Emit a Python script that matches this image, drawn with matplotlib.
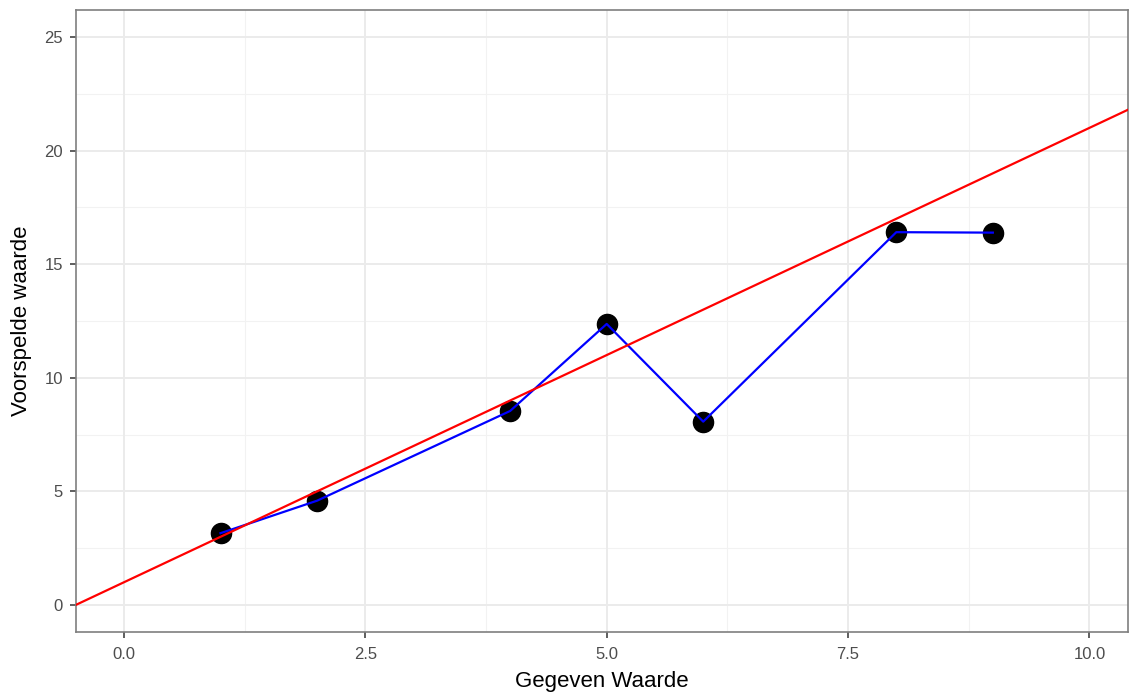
import matplotlib
matplotlib.use("Agg")
import matplotlib.pyplot as plt
import numpy as np

x_vals = [1, 2, 4, 5, 6, 8, 9]
y_vals = [3.16, 4.59, 8.54, 12.37, 8.07, 16.41, 16.39]
intercept = 1.0
slope = 2.0
x_ticks = [0.0, 2.5, 5.0, 7.5, 10.0]
x_ticklabels = ["0.0", "2.5", "5.0", "7.5", "10.0"]
y_ticks = [0, 5, 10, 15, 20, 25]
y_ticklabels = ["0", "5", "10", "15", "20", "25"]
xlabel = "Gegeven Waarde"
ylabel = "Voorspelde waarde"

plt.rcParams['font.family'] = ['Liberation Sans', 'DejaVu Sans']

fig = plt.figure(figsize=(11.29, 6.93), dpi=100)
ax = fig.add_axes([76/1129, 1-632/693, (1128-76)/1129, (632-10)/693])

xlim = (-0.497, 10.40)
ylim = (-1.19, 26.19)
ax.set_xlim(*xlim)
ax.set_ylim(*ylim)

# grids
for t in np.arange(1.25, 10.5, 2.5):
    ax.axvline(t, color='#F2F2F2', lw=0.8, zorder=0)
for t in np.arange(2.5, 26, 5):
    ax.axhline(t, color='#F2F2F2', lw=0.8, zorder=0)
for t in x_ticks:
    ax.axvline(t, color='#EBEBEB', lw=1.4, zorder=0)
for t in y_ticks:
    ax.axhline(t, color='#EBEBEB', lw=1.4, zorder=0)

ax.scatter(x_vals, y_vals, s=14.5**2, color='black', zorder=2)
ax.plot(x_vals, y_vals, color='blue', lw=1.6, zorder=3)
xl = np.array(xlim)
ax.plot(xl, intercept + slope * xl, color='red', lw=1.6, zorder=4)

ax.set_xticks(x_ticks)
ax.set_xticklabels(x_ticklabels)
ax.set_yticks(y_ticks)
ax.set_yticklabels(y_ticklabels)
ax.tick_params(axis='both', colors='#333333', labelcolor='#4D4D4D', labelsize=12, length=4.5, width=1.1)
ax.tick_params(axis='x', pad=6.5)
ax.tick_params(axis='y', pad=5)
for s in ax.spines.values():
    s.set_color('#7F7F7F')
    s.set_linewidth(1.2)

ax.set_xlabel(xlabel, fontsize=16, color='black', labelpad=6)
ax.set_ylabel(ylabel, fontsize=16, color='black', labelpad=9)

fig.savefig("out.png", dpi=100)
